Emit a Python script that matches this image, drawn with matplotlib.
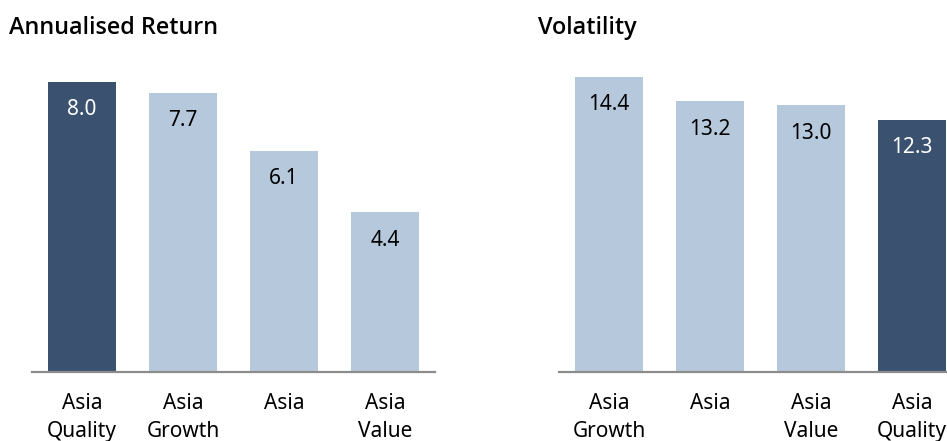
import matplotlib
matplotlib.use("Agg")
import matplotlib.pyplot as plt
from matplotlib import font_manager as fm

plt.rcParams['font.family'] = ['Noto Sans', 'DejaVu Sans']

ret_cats = ["Asia\nQuality", "Asia\nGrowth", "Asia", "Asia\nValue"]
ret_vals = [8.0, 7.7, 6.1, 4.4]
ret_highlight = [True, False, False, False]

vol_cats = ["Asia\nGrowth", "Asia", "Asia\nValue", "Asia\nQuality"]
vol_vals = [14.4, 13.2, 13.0, 12.3]
vol_highlight = [False, False, False, True]

DARK = "#3A526F"
LIGHT = "#B6C8DC"
AXIS = "#8C8C8C"

W, H = 947, 441
fig = plt.figure(figsize=(W / 100, H / 100), dpi=100)

title_font = fm.FontProperties(family=['Open Sans', 'Lato', 'DejaVu Sans'], weight='semibold', size=16.8)

def panel(left_px, title, title_x_px, cats, vals, hl, px_per_unit):
    base_y = 372
    top_y = 60
    ax = fig.add_axes([left_px / W, (H - base_y) / H, 403 / W, (base_y - top_y) / H])
    ax.set_xlim(-0.495, 3.495)
    ax.set_ylim(0, (base_y - top_y) / px_per_unit)
    x = list(range(len(vals)))
    colors = [DARK if h else LIGHT for h in hl]
    ax.bar(x, vals, width=0.67, color=colors, edgecolor='none', clip_on=False)
    for xi, v, h in zip(x, vals, hl):
        ax.annotate(f"{v:.1f}", (xi, v), xytext=(0, -28), textcoords='offset pixels',
                    ha='center', va='center', fontsize=15,
                    color='white' if h else 'black')
    for s in ['top', 'right', 'left']:
        ax.spines[s].set_visible(False)
    ax.spines['bottom'].set_color(AXIS)
    ax.spines['bottom'].set_linewidth(1.6)
    ax.set_yticks([])
    ax.set_xticks(x)
    ax.set_xticklabels(cats, fontsize=15, linespacing=1.45, va='top')
    ax.tick_params(axis='x', length=0, pad=15)
    fig.text(title_x_px / W, 1 - 28 / H, title, fontproperties=title_font,
             ha='left', va='center')
    return ax

panel(32, "Annualised Return", 9, ret_cats, ret_vals, ret_highlight, 36.25)
panel(559, "Volatility", 538, vol_cats, vol_vals, vol_highlight, 20.5)

fig.savefig("out.png", dpi=100)
